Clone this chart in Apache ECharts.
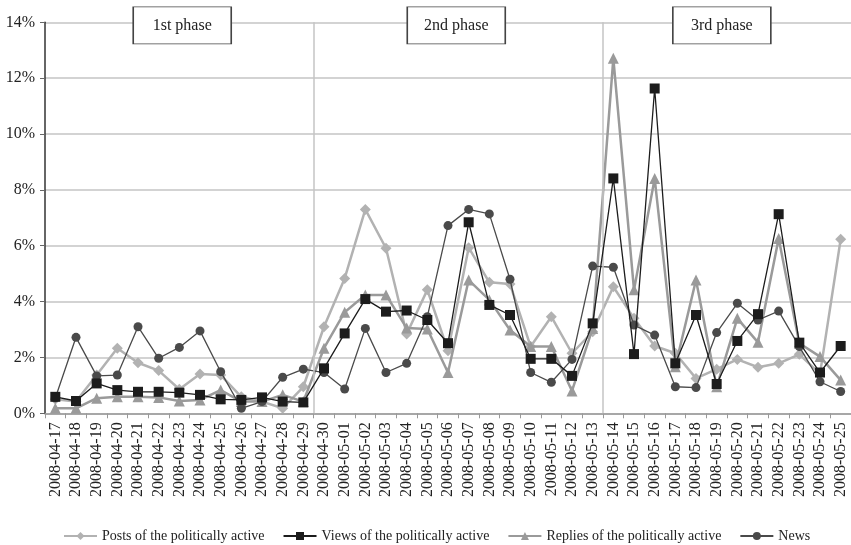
<!DOCTYPE html>
<html lang="en">
<head>
    <meta charset="UTF-8">
    <title>Phases chart</title>
    <script src="https://cdn.jsdelivr.net/npm/echarts@6/dist/echarts.min.js"></script>
</head>
<body style="margin:0">
<div id="main" style="width: 851px;height:545px;"></div>
<script type="text/javascript">
    // dates on the x axis
    const dates = ['2008-04-17', '2008-04-18', '2008-04-19', '2008-04-20', '2008-04-21', '2008-04-22', '2008-04-23',
        '2008-04-24', '2008-04-25', '2008-04-26', '2008-04-27', '2008-04-28', '2008-04-29', '2008-04-30',
        '2008-05-01', '2008-05-02', '2008-05-03', '2008-05-04', '2008-05-05', '2008-05-06', '2008-05-07',
        '2008-05-08', '2008-05-09', '2008-05-10', '2008-05-11', '2008-05-12', '2008-05-13', '2008-05-14',
        '2008-05-15', '2008-05-16', '2008-05-17', '2008-05-18', '2008-05-19', '2008-05-20', '2008-05-21',
        '2008-05-22', '2008-05-23', '2008-05-24', '2008-05-25'];
    // percent values
    const posts = [0.5, 0.42, 1.37, 2.33, 1.81, 1.53, 0.86, 1.41, 1.37, 0.59, 0.42, 0.18, 0.95,
        3.1, 4.83, 7.3, 5.91, 2.84, 4.42, 2.24, 5.93, 4.69, 4.63, 2.39, 3.46, 2.15, 2.92,
        4.53, 3.4, 2.41, 2.15, 1.25, 1.58, 1.93, 1.65, 1.79, 2.11, 1.41, 6.23];
    const views = [0.59, 0.44, 1.07, 0.83, 0.77, 0.77, 0.74, 0.66, 0.5, 0.48, 0.57, 0.42, 0.39,
        1.61, 2.86, 4.09, 3.64, 3.68, 3.34, 2.51, 6.84, 3.88, 3.52, 1.95, 1.95, 1.34, 3.22,
        8.41, 2.12, 11.63, 1.79, 3.52, 1.05, 2.59, 3.55, 7.13, 2.53, 1.46, 2.41];
    const replies = [0.18, 0.18, 0.54, 0.59, 0.59, 0.57, 0.44, 0.48, 0.83, 0.42, 0.42, 0.66, 0.42,
        2.33, 3.62, 4.24, 4.24, 3.05, 3.02, 1.46, 4.77, 4.06, 2.98, 2.39, 2.39, 0.8, 3.04,
        12.71, 4.42, 8.41, 1.67, 4.77, 0.95, 3.4, 2.54, 6.26, 2.51, 2.03, 1.19];
    const news = [0.55, 2.72, 1.34, 1.37, 3.1, 1.97, 2.36, 2.95, 1.49, 0.18, 0.42, 1.29, 1.58,
        1.46, 0.87, 3.04, 1.46, 1.79, 3.46, 6.72, 7.3, 7.14, 4.8, 1.46, 1.11, 1.93, 5.27,
        5.23, 3.16, 2.8, 0.95, 0.92, 2.89, 3.94, 3.34, 3.66, 2.39, 1.13, 0.78];
    // phase boundaries (in category units) and label positions
    const phaseBounds = [13, 27];
    const phaseNames = ['1st phase', '2nd phase', '3rd phase'];
    const phaseCenters = [6.64, 19.9, 32.75];

    const serif = '"Liberation Serif", "DejaVu Serif", serif';

    function lineSeries(name, data, color, symbol, size, width, z) {
        return {
            name: name, type: 'line', data: data, z: z,
            symbol: symbol, symbolSize: size,
            lineStyle: { color: color, width: width },
            itemStyle: { color: color, borderWidth: 0 }
        };
    }

    let options = {
        animation: false,
        textStyle: { fontFamily: serif },
        grid: { left: 45, top: 22.3, width: 808, bottom: 131.7, containLabel: false },
        legend: {
            top: 524, left: 58, itemWidth: 33, itemHeight: 10, itemGap: 18,
            textStyle: { fontFamily: serif, fontSize: 14, color: '#222' },
            data: ['Posts of the politically active', 'Views of the politically active',
                'Replies of the politically active', 'News']
        },
        xAxis: [{
            type: 'category', data: dates, boundaryGap: true,
            axisLine: { lineStyle: { color: '#999', width: 1.5 } },
            axisTick: { show: true, length: 5, lineStyle: { color: '#999' } },
            axisLabel: { rotate: 90, interval: 0, fontSize: 16, color: '#222', fontFamily: serif, margin: 9 }
        }, {
            type: 'value', min: 0, max: 39, show: false
        }],
        yAxis: {
            type: 'value', min: 0, max: 14, interval: 2,
            axisLine: { show: true, lineStyle: { color: '#333', width: 1.5 } },
            axisTick: { show: true, length: 5, lineStyle: { color: '#666' } },
            axisLabel: { formatter: '{value}%', fontSize: 16, color: '#222', fontFamily: serif, margin: 10 },
            splitLine: { lineStyle: { color: '#c4c4c4', width: 1.5 } }
        },
        series: [
            lineSeries('Posts of the politically active', posts, '#b2b2b2', 'diamond', 11, 2.5, 2),
            lineSeries('Views of the politically active', views, '#1c1c1c', 'rect', 10, 1.3, 5),
            lineSeries('Replies of the politically active', replies, '#9a9a9a', 'triangle', 11, 2.5, 3),
            lineSeries('News', news, '#4a4a4a', 'circle', 9, 1.3, 4),
            {
                type: 'line', xAxisIndex: 1, data: [], silent: true, z: 1,
                markLine: {
                    symbol: ['none', 'none'], silent: true, animation: false,
                    label: { show: false },
                    lineStyle: { color: '#c4c4c4', type: 'solid', width: 1.5 },
                    data: phaseBounds.map(b => ({ xAxis: b }))
                },
                markPoint: {
                    symbol: 'rect', symbolSize: [98, 37], silent: true, animation: false,
                    itemStyle: { color: '#fff', borderColor: '#444', borderWidth: 1 },
                    label: { show: true, position: 'inside', color: '#222', fontSize: 16, fontFamily: serif },
                    data: phaseNames.map((n, i) => ({ name: n, coord: [phaseCenters[i], 13.89], value: n }))
                }
            }
        ]
    };
    let myChart = echarts.init(document.getElementById('main'));
    myChart.setOption(options);
</script>
</body>
</html>
